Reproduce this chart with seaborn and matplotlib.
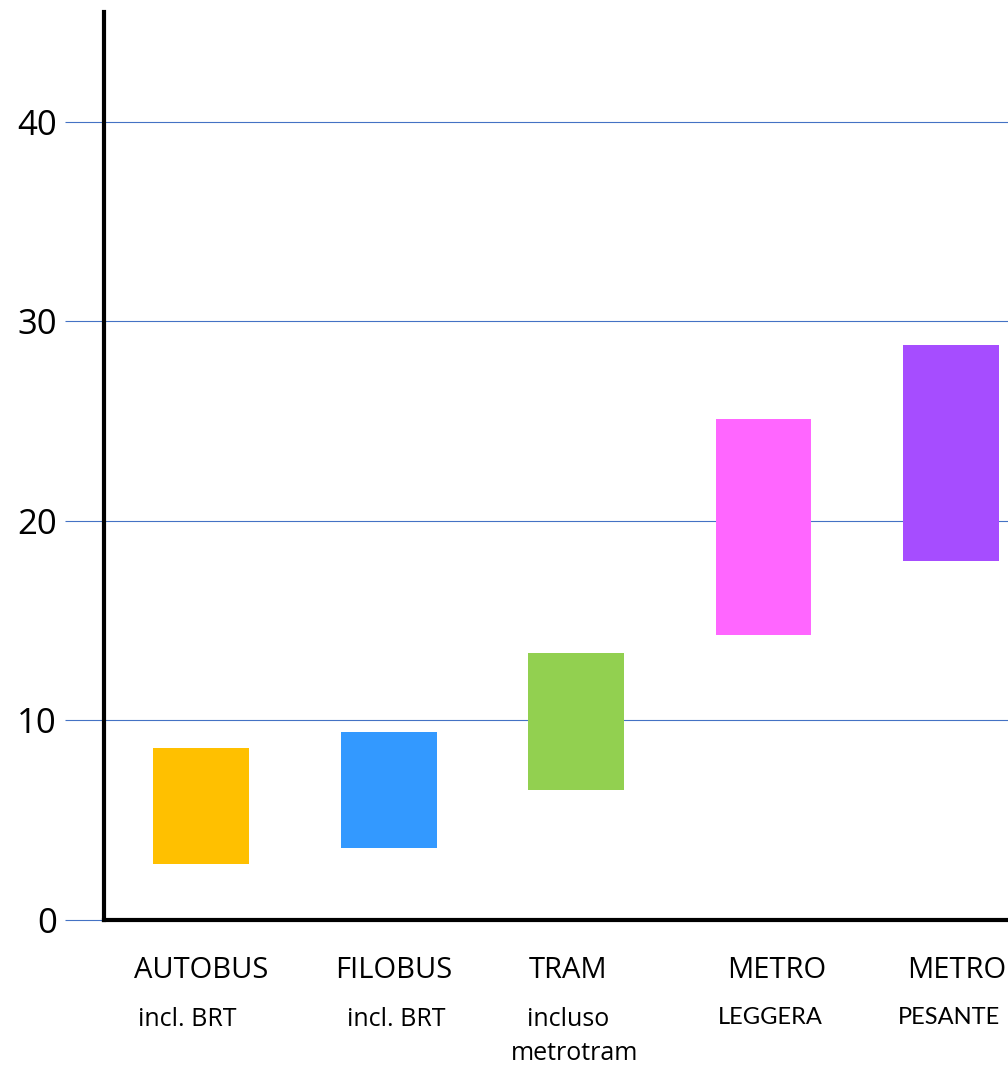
import matplotlib
matplotlib.use("Agg")
import matplotlib.pyplot as plt
import matplotlib.transforms as mtransforms
import pandas as pd
import seaborn as sns

# Range of values per transport mode (low end, high end)
modes = ["AUTOBUS", "FILOBUS", "TRAM", "METRO LEGGERA", "METRO PESANTE"]
low_values = [2.8, 3.6, 6.5, 14.3, 18.0]
high_values = [8.6, 9.4, 13.4, 25.1, 28.8]
bar_colors = ["#FFC000", "#3399FF", "#92D050", "#FF66FF", "#A64DFF"]

# Category captions, one list per text line
caption_main = ["AUTOBUS", "FILOBUS", "TRAM", "METRO", "METRO"]
caption_sub = ["incl. BRT", "incl. BRT", "incluso", "LEGGERA", "PESANTE"]
caption_third = ["", "", "metrotram", "", ""]

y_ticks = [0, 10, 20, 30, 40]

df = pd.DataFrame({
    "mode": modes,
    "low": low_values,
    "span": [h - l for h, l in zip(high_values, low_values)],
})

sns.set_style("white")
plt.rcParams["font.family"] = ["Open Sans", "DejaVu Sans"]

W, H = 1008, 1071
fig = plt.figure(figsize=(W / 100, H / 100), dpi=100)
ax = fig.add_axes([104 / W, (H - 920) / H, (W - 104) / W, (920 - 12) / H])

# Floating bars: height = span, starting at the low end
sns.barplot(
    data=df, x="mode", y="span", color="#888888",
    bottom=df["low"].values, width=0.512, ax=ax,
    edgecolor="none", linewidth=0, saturation=1, zorder=3,
)
for patch, c in zip(ax.patches, bar_colors):
    patch.set_facecolor(c)

ax.set_xlim(-0.52, 4.305)
ax.set_ylim(0, 45.5)
ax.set_yticks(y_ticks)
ax.set_yticklabels([str(t) for t in y_ticks], fontsize=25, color="black")
ax.set_xticks([])
ax.set_xlabel("")
ax.set_ylabel("")

grid_color = "#4472C4"
ax.yaxis.grid(True, color=grid_color, linewidth=0.8, zorder=0)
ax.set_axisbelow(True)
ax.tick_params(axis="y", length=28, width=0.8, color=grid_color, pad=6, direction="out", left=True)

for side in ["top", "right"]:
    ax.spines[side].set_visible(False)
for side in ["left", "bottom"]:
    ax.spines[side].set_visible(True)
    ax.spines[side].set_color("black")
    ax.spines[side].set_linewidth(3)
    ax.spines[side].set_zorder(4)


def caption(i, dx_px, y_px, text, **kw):
    base = mtransforms.blended_transform_factory(ax.transData, fig.transFigure)
    tr = mtransforms.offset_copy(base, fig=fig, x=dx_px * 0.72, y=0, units="points")
    ax.text(i, (H - y_px) / H, text, transform=tr, ha="center", va="center",
            color="black", **kw)


# Captions below the bars, shifted a few pixels from each category centre
main_dx = [0, 5, -8, 13, 6]
sub_dx = [-14, 7, -8, 7, -2]
third_dx = [0, 0, -2, 0, 0]
for i in range(len(modes)):
    caption(i, main_dx[i], 971, caption_main[i], fontsize=21)
    if i >= 3:
        caption(i, sub_dx[i], 1018, caption_sub[i], fontsize=17,
                family=["Lato", "Open Sans"])
    else:
        caption(i, sub_dx[i], 1019, caption_sub[i], fontsize=18)
    if caption_third[i]:
        caption(i, third_dx[i], 1053, caption_third[i], fontsize=18)

fig.savefig("out.png", dpi=100)
